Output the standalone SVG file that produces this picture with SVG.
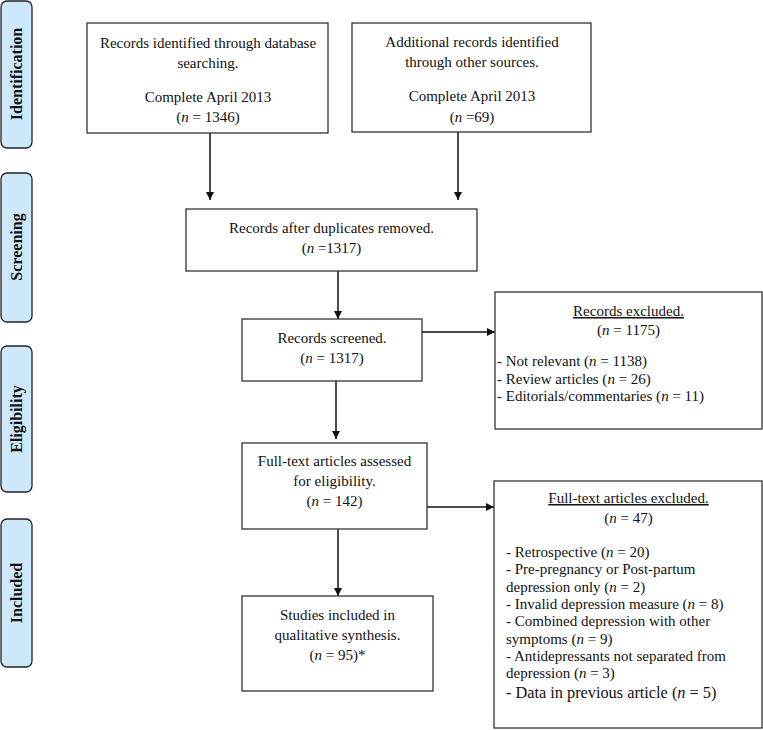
<svg xmlns="http://www.w3.org/2000/svg" width="763" height="730" viewBox="0 0 763 730">
<style>
.box{fill:#fff;stroke:#333;stroke-width:1.3}
.phase{fill:#cde8fa;stroke:#222;stroke-width:1.3}
.t{font-family:"Liberation Serif","Times New Roman",serif;font-size:15px;fill:#111}
.c{text-anchor:middle}
.ph{font-family:"Liberation Serif","Times New Roman",serif;font-size:16px;font-weight:bold;fill:#111;text-anchor:middle}
.i{font-style:italic}
.con{stroke:#111;stroke-width:1.5;fill:none;marker-end:url(#ah)}
</style>
<defs>
<marker id="ah" viewBox="0 0 10 10" refX="10" refY="5" markerWidth="8" markerHeight="8" markerUnits="userSpaceOnUse" orient="auto">
<path d="M0,0 L10,5 L0,10 z" fill="#111"/>
</marker>
</defs>
<rect width="763" height="730" fill="#fff"/>
<g id="phase-identification"><rect class="phase" x="1" y="1" width="31" height="147" rx="6"/><text class="ph" transform="translate(22,74) rotate(-90)">Identification</text></g>
<g id="phase-screening"><rect class="phase" x="1" y="173" width="31" height="149" rx="6"/><text class="ph" transform="translate(22,247) rotate(-90)">Screening</text></g>
<g id="phase-eligibility"><rect class="phase" x="1" y="346" width="31" height="146" rx="6"/><text class="ph" transform="translate(22,419) rotate(-90)">Eligibility</text></g>
<g id="phase-included"><rect class="phase" x="1" y="519" width="31" height="148" rx="6"/><text class="ph" transform="translate(22,593) rotate(-90)">Included</text></g>

<g id="connectors">
<line class="con" x1="210" y1="133" x2="210" y2="200"/>
<line class="con" x1="458" y1="132" x2="458" y2="200"/>
<line class="con" x1="338" y1="271" x2="338" y2="319"/>
<line class="con" x1="336" y1="381" x2="336" y2="439"/>
<line class="con" x1="338" y1="529" x2="338" y2="596"/>
<line class="con" x1="422" y1="332" x2="495" y2="332"/>
<line class="con" x1="427" y1="507" x2="494" y2="507"/>
</g>

<g id="n-db">
<rect class="box" x="87" y="23" width="241" height="110"/>
<text class="t c" x="208" y="48">Records identified through database</text>
<text class="t c" x="208" y="68">searching.</text>
<text class="t c" x="208" y="102">Complete April 2013</text>
<text class="t c" x="208" y="122">(<tspan class="i">n</tspan> = 1346)</text>
</g>
<g id="n-other">
<rect class="box" x="352" y="23" width="239" height="109"/>
<text class="t c" x="472" y="47">Additional records identified</text>
<text class="t c" x="472" y="67">through other sources.</text>
<text class="t c" x="472" y="101">Complete April 2013</text>
<text class="t c" x="472" y="122">(<tspan class="i">n</tspan> =69)</text>
</g>
<g id="n-dup">
<rect class="box" x="186" y="209" width="291" height="62"/>
<text class="t c" x="331.5" y="233">Records after duplicates removed.</text>
<text class="t c" x="331.5" y="253">(<tspan class="i">n</tspan> =1317)</text>
</g>
<g id="n-screened">
<rect class="box" x="242" y="319" width="180" height="62"/>
<text class="t c" x="332" y="343">Records screened.</text>
<text class="t c" x="332" y="363">(<tspan class="i">n</tspan> = 1317)</text>
</g>
<g id="n-excl1">
<rect class="box" x="495" y="292" width="267" height="137"/>
<text class="t c" x="628.5" y="316" text-decoration="underline">Records excluded.</text>
<text class="t c" x="628.5" y="335">(<tspan class="i">n</tspan> = 1175)</text>
<text class="t" x="497" y="366">- Not relevant (<tspan class="i">n</tspan> = 1138)</text>
<text class="t" x="497" y="383.5">- Review articles (<tspan class="i">n</tspan> = 26)</text>
<text class="t" x="497" y="401">- Editorials/commentaries (<tspan class="i">n</tspan> = 11)</text>
</g>
<g id="n-full">
<rect class="box" x="242" y="443" width="185" height="86"/>
<text class="t c" x="334.5" y="466">Full-text articles assessed</text>
<text class="t c" x="334.5" y="486">for eligibility.</text>
<text class="t c" x="334.5" y="506">(<tspan class="i">n</tspan> = 142)</text>
</g>
<g id="n-excl2">
<rect class="box" x="494" y="481" width="268" height="247"/>
<text class="t c" x="628.5" y="503" text-decoration="underline">Full-text articles excluded.</text>
<text class="t c" x="628.5" y="523">(<tspan class="i">n</tspan> = 47)</text>
<text class="t" x="506" y="557">- Retrospective (<tspan class="i">n</tspan> = 20)</text>
<text class="t" x="506" y="574.3">- Pre-pregnancy or Post-partum</text>
<text class="t" x="506" y="591.6">depression only (<tspan class="i">n</tspan> = 2)</text>
<text class="t" x="506" y="608.9">- Invalid depression measure (<tspan class="i">n</tspan> = 8)</text>
<text class="t" x="506" y="626.2">- Combined depression with other</text>
<text class="t" x="506" y="643.5">symptoms (<tspan class="i">n</tspan> = 9)</text>
<text class="t" x="506" y="660.8">- Antidepressants not separated from</text>
<text class="t" x="506" y="678.1">depression (<tspan class="i">n</tspan> = 3)</text>
<text class="t" x="506" y="698" style="font-size:16.3px">- Data in previous article (<tspan class="i">n</tspan> = 5)</text>
</g>
<g id="n-included">
<rect class="box" x="242" y="596" width="191" height="95"/>
<text class="t c" x="337.5" y="620">Studies included in</text>
<text class="t c" x="337.5" y="640">qualitative synthesis.</text>
<text class="t c" x="337.5" y="660">(<tspan class="i">n</tspan> = 95)*</text>
</g>
</svg>
